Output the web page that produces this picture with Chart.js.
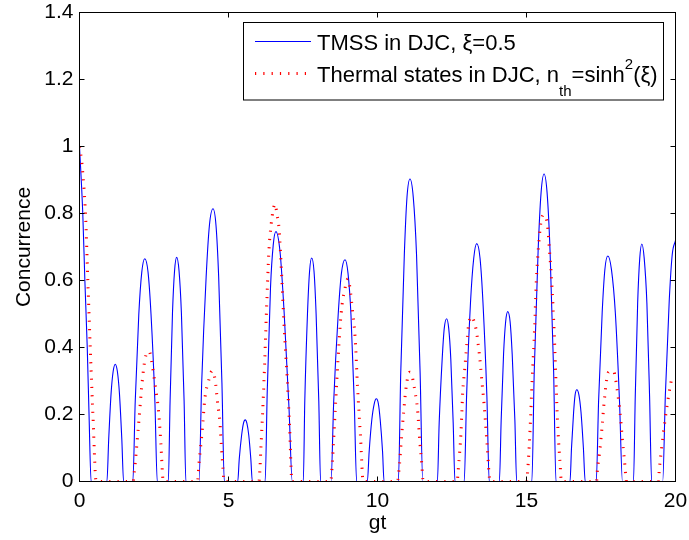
<!DOCTYPE html>
<html>
<head>
<meta charset="utf-8">
<script src="https://cdn.jsdelivr.net/npm/chart.js@4.4.1/dist/chart.umd.min.js"></script>
<style>
  html, body { margin: 0; padding: 0; background: #fff; }
  #wrap { width: 689px; height: 540px; }
</style>
</head>
<body>
<div id="wrap"><canvas id="chart" width="689" height="540"></canvas></div>
<script>
// TMSS in DJC, xi = 0.5 (blue solid), one row per hump
var tmssGt = [
  0, 0.11, 0.18, 0.26, 0.32, 0.39,
  0.92, 0.98, 1.06, 1.13, 1.20, 1.27, 1.34, 1.42, 1.48,
  1.79, 1.87, 1.99, 2.09, 2.19, 2.30, 2.40, 2.53, 2.61,
  2.98, 3.04, 3.12, 3.19, 3.26, 3.34, 3.42, 3.51, 3.57,
  4.01, 4.10, 4.25, 4.36, 4.48, 4.58, 4.67, 4.78, 4.86,
  5.31, 5.36, 5.44, 5.50, 5.56, 5.62, 5.68, 5.75, 5.80,
  6.23, 6.30, 6.41, 6.50, 6.59, 6.73, 6.87, 7.03, 7.14,
  7.51, 7.56, 7.65, 7.72, 7.79, 7.87, 7.94, 8.03, 8.09,
  8.44, 8.53, 8.68, 8.79, 8.91, 9.01, 9.11, 9.22, 9.30,
  9.66, 9.72, 9.81, 9.89, 9.96, 10.03, 10.09, 10.17, 10.22,
  10.70, 10.78, 10.90, 10.99, 11.09, 11.20, 11.31, 11.43, 11.52,
  12.01, 12.07, 12.17, 12.24, 12.32, 12.39, 12.46, 12.54, 12.60,
  12.91, 12.99, 13.12, 13.23, 13.33, 13.44, 13.54, 13.67, 13.75,
  14.09, 14.15, 14.23, 14.30, 14.37, 14.45, 14.52, 14.61, 14.67,
  15.18, 15.26, 15.39, 15.49, 15.59, 15.69, 15.79, 15.91, 15.99,
  16.46, 16.51, 16.58, 16.63, 16.69, 16.76, 16.83, 16.91, 16.97,
  17.34, 17.42, 17.54, 17.63, 17.73, 17.85, 17.98, 18.12, 18.22,
  18.59, 18.65, 18.73, 18.80, 18.87, 18.95, 19.04, 19.13, 19.20,
  19.57, 19.66, 19.79, 19.89, 20
];
var tmssC = [
  1, 0.8, 0.6, 0.4, 0.2, 0,
  0, 0.126, 0.263, 0.329, 0.35, 0.329, 0.263, 0.126, 0,
  0, 0.239, 0.499, 0.625, 0.665, 0.625, 0.499, 0.239, 0,
  0, 0.241, 0.502, 0.629, 0.669, 0.629, 0.502, 0.241, 0,
  0, 0.293, 0.611, 0.765, 0.814, 0.765, 0.611, 0.293, 0,
  0, 0.066, 0.138, 0.173, 0.184, 0.173, 0.138, 0.066, 0,
  0, 0.269, 0.58, 0.705, 0.746, 0.685, 0.50, 0.22, 0,
  0, 0.24, 0.50, 0.627, 0.667, 0.627, 0.50, 0.24, 0,
  0, 0.238, 0.497, 0.622, 0.662, 0.622, 0.497, 0.238, 0,
  0, 0.089, 0.185, 0.232, 0.247, 0.232, 0.185, 0.089, 0,
  0, 0.325, 0.677, 0.849, 0.903, 0.849, 0.677, 0.325, 0,
  0, 0.175, 0.365, 0.457, 0.486, 0.457, 0.365, 0.175, 0,
  0, 0.256, 0.533, 0.667, 0.710, 0.667, 0.533, 0.256, 0,
  0, 0.183, 0.38, 0.477, 0.507, 0.477, 0.38, 0.183, 0,
  0, 0.33, 0.689, 0.863, 0.918, 0.863, 0.689, 0.33, 0,
  0, 0.099, 0.206, 0.258, 0.274, 0.258, 0.206, 0.099, 0,
  0, 0.242, 0.505, 0.633, 0.673, 0.633, 0.505, 0.242, 0,
  0, 0.255, 0.532, 0.666, 0.709, 0.666, 0.532, 0.255, 0,
  0, 0.259, 0.54, 0.677, 0.72
];

// Thermal states in DJC, n_th = sinh^2(xi) (red dotted)
var thermalGt = [
  0, 0.08, 0.20, 0.28, 0.36, 0.45, 0.56,
  1.80, 1.83, 1.98, 2.10, 2.20, 2.34, 2.42, 2.54, 2.65, 2.73, 2.79, 2.81,
  3.96, 4.01, 4.12, 4.21, 4.33, 4.45, 4.55, 4.64, 4.71, 4.76, 4.82, 4.85,
  6.02, 6.09, 6.19, 6.27, 6.36, 6.43, 6.51, 6.57, 6.62, 6.70, 6.79, 6.87, 6.97, 7.05, 7.13,
  8.43, 8.49, 8.58, 8.67, 8.78, 8.91, 9.01, 9.08, 9.17, 9.25, 9.33, 9.43, 9.52,
  10.66, 10.74, 10.80, 10.87, 10.95, 11.04, 11.09, 11.16, 11.26, 11.34, 11.42, 11.49, 11.53,
  12.67, 12.72, 12.80, 12.86, 12.93, 13.00, 13.05, 13.11, 13.17, 13.24, 13.31, 13.42, 13.50, 13.60, 13.68, 13.78,
  15.00, 15.06, 15.12, 15.19, 15.27, 15.33, 15.40, 15.48, 15.57, 15.66, 15.71, 15.77, 15.85, 15.93, 16.00, 16.06, 16.13, 16.17,
  17.35, 17.38, 17.45, 17.53, 17.60, 17.69, 17.75, 17.85, 17.92, 17.99, 18.07, 18.14, 18.21, 18.29, 18.36,
  19.42, 19.46, 19.52, 19.58, 19.65, 19.73, 19.82, 19.88, 19.93, 20
];
var thermalC = [
  1, 0.95, 0.80, 0.60, 0.40, 0.20, 0,
  0, 0.02, 0.167, 0.294, 0.366, 0.388, 0.359, 0.287, 0.212, 0.114, 0.016, 0,
  0, 0.055, 0.154, 0.25, 0.30, 0.33, 0.304, 0.23, 0.18, 0.107, 0.033, 0,
  0, 0.104, 0.299, 0.498, 0.694, 0.766, 0.816, 0.828, 0.801, 0.751, 0.604, 0.458, 0.308, 0.162, 0,
  0, 0.065, 0.211, 0.356, 0.502, 0.577, 0.605, 0.575, 0.502, 0.428, 0.282, 0.134, 0,
  0, 0.053, 0.126, 0.199, 0.274, 0.321, 0.326, 0.315, 0.267, 0.218, 0.119, 0.047, 0,
  0, 0.047, 0.144, 0.267, 0.338, 0.413, 0.463, 0.487, 0.492, 0.478, 0.453, 0.378, 0.303, 0.206, 0.107, 0,
  0, 0.058, 0.157, 0.303, 0.453, 0.599, 0.697, 0.771, 0.796, 0.786, 0.761, 0.692, 0.590, 0.443, 0.272, 0.147, 0.050, 0,
  0, 0.035, 0.085, 0.157, 0.232, 0.303, 0.326, 0.329, 0.330, 0.305, 0.257, 0.207, 0.133, 0.06, 0,
  0, 0.04, 0.088, 0.136, 0.184, 0.234, 0.282, 0.306, 0.307, 0.31
];

var xTicks = [0, 5, 10, 15, 20];
var xTickLabels = ['0', '5', '10', '15', '20'];
var yTicks = [0, 0.2, 0.4, 0.6, 0.8, 1, 1.2, 1.4];
var yTickLabels = ['0', '0.2', '0.4', '0.6', '0.8', '1', '1.2', '1.4'];

var xTitle = 'gt';
var yTitle = 'Concurrence';
// legend text pieces: n = normal, sub = subscript, sup = superscript
var tmssLabel = [['TMSS in DJC, ξ=0.5', 'n']];
var thermalLabel = [['Thermal states in DJC, n', 'n'], ['th', 'sub'], ['=sinh', 'n'], ['2', 'sup'], ['(ξ)', 'n']];

var tmssColor = '#0000ff';
var thermalColor = '#ff0000';
var thermalDash = [1.2, 7.1];
var fontFamily = '"Liberation Sans", Arial, Helvetica, sans-serif';

function toPoints(xs, ys) {
  return xs.map(function(x, i) { return { x: x, y: ys[i] }; });
}

// keep the plot box where the layout padding puts it
function noOverflow(scale) {
  scale.paddingLeft = 0;
  scale.paddingRight = 0;
  scale.paddingTop = 0;
  scale.paddingBottom = 0;
}

// matlab style box with inward ticks on all four sides
var frame = {
  id: 'frame',
  afterDatasetsDraw: function(chart) {
    var a = chart.chartArea;
    var ctx = chart.ctx;
    var xs = chart.scales.x;
    var ys = chart.scales.y;
    ctx.save();
    ctx.strokeStyle = '#000';
    ctx.lineWidth = 1;
    ctx.beginPath();
    xTicks.forEach(function(v) {
      var px = Math.round(xs.getPixelForValue(v) - 0.5) + 0.5;
      ctx.moveTo(px, a.bottom); ctx.lineTo(px, a.bottom - 5);
      ctx.moveTo(px, a.top); ctx.lineTo(px, a.top + 5);
    });
    yTicks.forEach(function(v) {
      var py = Math.round(ys.getPixelForValue(v) - 0.5) + 0.5;
      ctx.moveTo(a.left, py); ctx.lineTo(a.left + 5, py);
      ctx.moveTo(a.right, py); ctx.lineTo(a.right - 5, py);
    });
    ctx.stroke();
    ctx.strokeRect(a.left, a.top, a.right - a.left, a.bottom - a.top);
    ctx.restore();
  }
};

function drawParts(ctx, parts, x, y) {
  parts.forEach(function(p) {
    var size = p[1] === 'n' ? 22 : 15;
    var dy = p[1] === 'sub' ? 14 : (p[1] === 'sup' ? -13 : 0);
    ctx.font = size + 'px ' + fontFamily;
    ctx.fillText(p[0], x, y + dy);
    x += ctx.measureText(p[0]).width;
  });
}

var boxLegend = {
  id: 'boxLegend',
  afterDraw: function(chart) {
    var ctx = chart.ctx;
    ctx.save();
    ctx.fillStyle = '#fff';
    ctx.fillRect(243.5, 22.5, 420, 77.5);
    ctx.strokeStyle = '#000';
    ctx.lineWidth = 1;
    ctx.strokeRect(243.5, 22.5, 420, 77.5);

    ctx.strokeStyle = tmssColor;
    ctx.lineWidth = 1;
    ctx.beginPath();
    ctx.moveTo(255, 41.5);
    ctx.lineTo(311, 41.5);
    ctx.stroke();

    ctx.strokeStyle = thermalColor;
    ctx.lineWidth = 3;
    ctx.setLineDash(thermalDash);
    ctx.beginPath();
    ctx.moveTo(255, 73.5);
    ctx.lineTo(308, 73.5);
    ctx.stroke();
    ctx.setLineDash([]);

    ctx.fillStyle = '#000';
    ctx.textAlign = 'left';
    ctx.textBaseline = 'alphabetic';
    drawParts(ctx, tmssLabel, 317, 49.5);
    drawParts(ctx, thermalLabel, 317, 81.5);
    ctx.restore();
  }
};

Chart.defaults.color = '#000';
Chart.defaults.font.family = fontFamily;

var chart = new Chart(document.getElementById('chart'), {
  type: 'scatter',
  data: {
    datasets: [
      {
        label: 'Thermal',
        data: toPoints(thermalGt, thermalC),
        showLine: true,
        borderColor: thermalColor,
        borderWidth: 3,
        borderDash: thermalDash,
        borderCapStyle: 'butt',
        pointRadius: 0,
        cubicInterpolationMode: 'monotone',
        order: 1
      },
      {
        label: 'TMSS',
        data: toPoints(tmssGt, tmssC),
        showLine: true,
        borderColor: tmssColor,
        borderWidth: 1.1,
        pointRadius: 0,
        cubicInterpolationMode: 'monotone',
        order: 2
      }
    ]
  },
  options: {
    responsive: false,
    animation: false,
    devicePixelRatio: 1,
    layout: { padding: { left: 0, right: 13.5, top: 12.5, bottom: 0 } },
    plugins: { legend: { display: false }, tooltip: { enabled: false } },
    scales: {
      x: {
        type: 'linear',
        min: 0,
        max: 20,
        grid: { display: false, drawTicks: false },
        border: { display: false },
        afterBuildTicks: function(scale) {
          scale.ticks = xTicks.map(function(v) { return { value: v }; });
        },
        afterFit: function(scale) { scale.height = 58.5; noOverflow(scale); },
        ticks: {
          padding: 6.7,
          font: { size: 21 },
          maxRotation: 0,
          callback: function(value, index) { return xTickLabels[index]; }
        },
        title: {
          display: true,
          text: xTitle,
          font: { size: 21 },
          padding: { top: 0, bottom: 4.1 }
        }
      },
      y: {
        type: 'linear',
        min: 0,
        max: 1.4,
        grid: { display: false, drawTicks: false },
        border: { display: false },
        afterBuildTicks: function(scale) {
          scale.ticks = yTicks.map(function(v) { return { value: v }; });
        },
        afterFit: function(scale) { scale.width = 79.5; noOverflow(scale); },
        ticks: {
          padding: 6,
          font: { size: 21 },
          callback: function(value, index) { return yTickLabels[index]; }
        },
        title: {
          display: true,
          text: yTitle,
          font: { size: 21 },
          padding: { top: 12, bottom: 0 }
        }
      }
    }
  },
  plugins: [frame, boxLegend]
});
</script>
</body>
</html>
